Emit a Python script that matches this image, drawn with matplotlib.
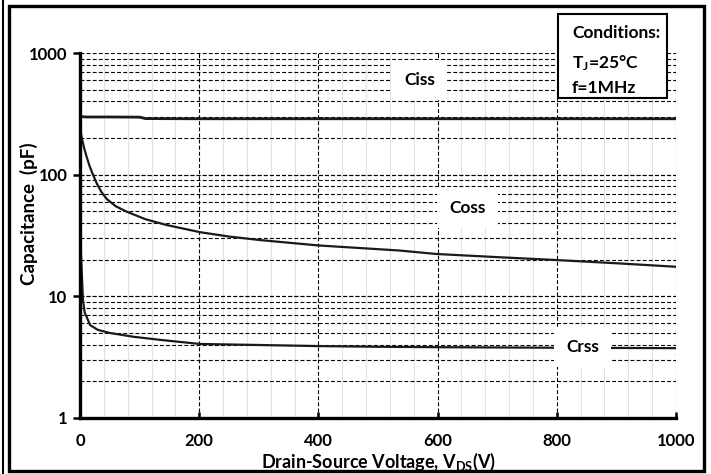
import numpy as np
import matplotlib
matplotlib.use("Agg")
from matplotlib import pyplot as plt
from matplotlib.patches import Rectangle
from matplotlib.lines import Line2D

plt.rcParams['font.family'] = ['Lato', 'DejaVu Sans']
plt.rcParams['font.weight'] = 'bold'
plt.rcParams['mathtext.fontset'] = 'custom'
plt.rcParams['mathtext.rm'] = 'Lato:bold'
plt.rcParams['mathtext.it'] = 'Lato:bold'
plt.rcParams['mathtext.bf'] = 'Lato:bold'
plt.rcParams['mathtext.default'] = 'rm'

# values (V in volts, C in pF)
ciss_v = [0, 2, 10, 50, 100, 110, 200, 400, 600, 800, 1000]
ciss_c = [310, 300, 298, 298, 297, 289, 288, 288, 288, 288, 288]

coss_v = [0, 3, 7, 11, 16, 20, 28, 36, 45, 60, 78, 110, 145, 201, 250, 302, 400, 536, 597, 700, 797, 900, 1000]
coss_c = [240, 200, 165, 141, 118, 105, 85, 72, 63, 55, 49.7, 43, 38.6, 33.7, 31, 29, 26.2, 23.8, 22.3, 21, 19.9, 18.7, 17.5]

crss_v = [0, 2, 5, 8, 11, 17, 30, 50, 90, 134, 201, 302, 400, 500, 600, 800, 1000]
crss_c = [33, 20, 9.3, 7.3, 6.8, 5.8, 5.3, 5.0, 4.65, 4.39, 4.06, 3.98, 3.9, 3.85, 3.82, 3.78, 3.75]

x_ticks = [0, 200, 400, 600, 800, 1000]
y_ticks = [1, 10, 100, 1000]
conditions = ["Conditions:", "T$_{J}$=25°C", "f=1MHz"]

fig = plt.figure(figsize=(7.11, 4.74), dpi=100)
W, H = 711.0, 474.0
ax = fig.add_axes([80 / W, 1 - 418 / H, 596 / W, 365 / H])

ax.set_yscale('log')
ax.set_xlim(0, 1000)
ax.set_ylim(1, 1000)

# light minor verticals every 40 V
for v in np.arange(40, 1000, 40):
	if v % 200 != 0:
		ax.axvline(v, color='#e2e2e2', lw=0.8, zorder=0)
# dashed grid
for v in x_ticks[1:]:
	ax.axvline(v, color='black', lw=0.8, ls=(0, (3.5, 2)), zorder=1)
for dec in [1, 10, 100]:
	for m in range(1, 11):
		y = dec * m
		if y > 1:
			ax.axhline(y, color='black', lw=0.8, ls=(0, (3.5, 2)), zorder=1)

lc = '#1a1a1a'
ax.plot(ciss_v, ciss_c, color=lc, lw=2.0, zorder=3)
ax.plot(coss_v, coss_c, color=lc, lw=1.6, zorder=3)
ax.plot(crss_v, crss_c, color=lc, lw=1.6, zorder=3)

box = dict(facecolor='white', edgecolor='none', boxstyle='square,pad=0.7')
ax.text(570, 600, 'Ciss', fontsize=12.5, fontweight='bold', ha='center', va='center', bbox=box, zorder=4)
ax.text(650, 53, 'Coss', fontsize=12.5, fontweight='bold', ha='center', va='center', bbox=box, zorder=4)
ax.text(843, 3.84, 'Crss', fontsize=12.5, fontweight='bold', ha='center', va='center', bbox=box, zorder=4)

ax.set_xticks(x_ticks)
ax.set_xticklabels([str(t) for t in x_ticks])
ax.set_yticks(y_ticks)
ax.set_yticklabels([str(t) for t in y_ticks])
ax.yaxis.set_minor_locator(matplotlib.ticker.NullLocator())
ax.tick_params(axis='x', direction='in', length=4, width=1.8, labelsize=12, pad=11)
ax.tick_params(axis='y', direction='out', length=5, width=1.8, labelsize=12, pad=4)
for lab in ax.get_xticklabels() + ax.get_yticklabels():
	lab.set_fontweight('bold')

for s in ['top', 'right']:
	ax.spines[s].set_visible(False)
for s in ['left', 'bottom']:
	ax.spines[s].set_linewidth(2.4)
	ax.spines[s].set_zorder(5)

ax.set_xlabel('Drain-Source Voltage, V$_{DS}$(V)', fontsize=13, fontweight='bold', labelpad=1)
ax.set_ylabel('Capacitance  (pF)', fontsize=13.5, fontweight='bold')
ax.yaxis.set_label_coords(-0.07, 0.56)

# conditions box
fig.patches.append(Rectangle((558 / W, 1 - 98 / H), 109 / W, 84 / H, transform=fig.transFigure,
	facecolor='white', edgecolor='black', lw=1.5, zorder=10))
for txt, yy in zip(conditions, [33, 63, 88]):
	fig.text(572 / W, 1 - yy / H, txt, fontsize=12.5, fontweight='bold', va='center', ha='left', zorder=11)

# outer frame
fig.patches.append(Rectangle((9 / W, 1 - 471 / H), 695 / W, 465 / H, transform=fig.transFigure,
	facecolor='none', edgecolor='black', lw=2.4, zorder=12))
fig.lines.append(Line2D([3 / W, 3 / W], [0, 1], transform=fig.transFigure, color='black', lw=1.5))

fig.savefig('out.png', dpi=100)
